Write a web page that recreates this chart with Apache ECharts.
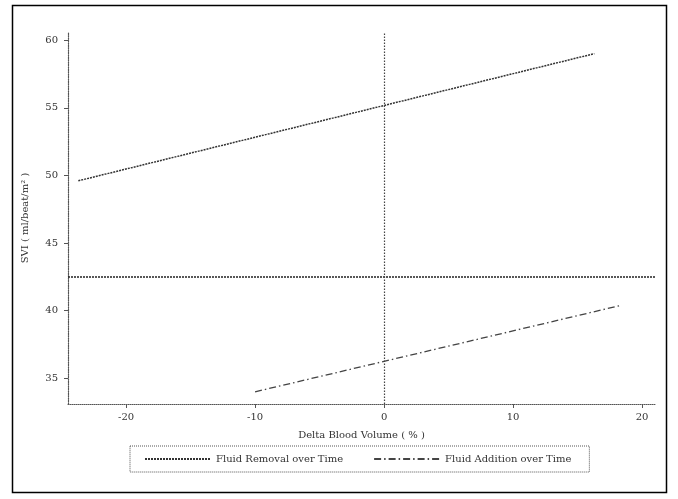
<!DOCTYPE html>
<html>
<head>
<meta charset="utf-8">
<script src="https://cdn.jsdelivr.net/npm/echarts@6/dist/echarts.min.js"></script>
<style>html,body{margin:0;padding:0;background:#fff}#c{width:678px;height:499px}</style>
</head>
<body>
<div id="c"></div>
<script>
const seriesNames = ['Fluid Removal over Time', 'Fluid Addition over Time'];
const removalX = [-23.7, 16.3];
const removalY = [49.6, 59.0];
const additionX = [-10.0, 18.4];
const additionY = [34.0, 40.4];
const referenceY = 42.5;
const referenceX = 0;
const xTicks = [-20, -10, 0, 10, 20];
const yTicks = [35, 40, 45, 50, 55, 60];
const xMin = -24.5, xMax = 21, yMin = 33.1, yMax = 60.6;

const pairs = (xs, ys) => xs.map((x, i) => [x, ys[i]]);
const txt = '#333';
const chart = echarts.init(document.getElementById('c'), null, {renderer: 'canvas'});
chart.setOption({
  animation: false,
  backgroundColor: '#fff',
  graphic: [{type: 'rect', shape: {x: 12.5, y: 5.5, width: 654, height: 487}, style: {fill: 'none', stroke: '#000', lineWidth: 1.5}, silent: true}],
  grid: {left: 68, right: 23, top: 32, bottom: 95, containLabel: false},
  legend: {
    data: seriesNames, left: 130, top: 446, width: 460,
    itemWidth: 66, itemHeight: 10, itemGap: 30,
    padding: [8, 18, 8, 14],
    itemStyle: {opacity: 0},
    borderColor: '#555', borderWidth: 1, borderType: 'dotted',
    textStyle: {color: txt, fontSize: 10, fontFamily: 'DejaVu Serif'}
  },
  xAxis: {
    type: 'value', min: xMin, max: xMax,
    name: 'Delta Blood Volume ( % )', nameLocation: 'middle', nameGap: 26,
    nameTextStyle: {color: txt, fontSize: 10, fontFamily: 'DejaVu Serif'},
    axisLine: {show: true, onZero: false, lineStyle: {color: '#555', type: 'dotted'}},
    axisTick: {show: true, length: 4, customValues: xTicks, lineStyle: {color: '#555'}},
    axisLabel: {customValues: xTicks, color: txt, fontSize: 10, fontFamily: 'DejaVu Serif', margin: 8},
    splitLine: {show: false}
  },
  yAxis: {
    type: 'value', min: yMin, max: yMax,
    name: 'SVI ( ml/beat/m² )', nameLocation: 'middle', nameGap: 38, nameRotate: 90,
    nameTextStyle: {color: txt, fontSize: 10, fontFamily: 'DejaVu Serif'},
    axisLine: {show: true, onZero: false, lineStyle: {color: '#555', type: 'dotted', width: 1.2}},
    axisTick: {show: true, length: 4, customValues: yTicks, lineStyle: {color: '#555'}},
    axisLabel: {customValues: yTicks, color: txt, fontSize: 10, fontFamily: 'DejaVu Serif', margin: 10},
    splitLine: {show: false}
  },
  series: [
    {
      name: seriesNames[0], type: 'line', symbol: 'none', silent: true,
      data: pairs(removalX, removalY),
      lineStyle: {color: '#333', width: 1.5, type: [2, 1]},
      itemStyle: {color: '#333'}
    },
    {
      name: seriesNames[1], type: 'line', symbol: 'none', silent: true,
      data: pairs(additionX, additionY),
      lineStyle: {color: '#444', width: 1.3, type: [7, 3, 1.5, 3]},
      itemStyle: {color: '#444'}
    },
    {
      name: 'ref', type: 'line', symbol: 'none', silent: true,
      data: [],
      markLine: {
        silent: true, symbol: 'none', label: {show: false},
        data: [
          {yAxis: referenceY, lineStyle: {color: '#222', width: 1.6, type: [2, 1]}},
          {xAxis: referenceX, lineStyle: {color: '#444', width: 1.2, type: [1.5, 1.5]}}
        ]
      }
    }
  ]
});
</script>
</body>
</html>
